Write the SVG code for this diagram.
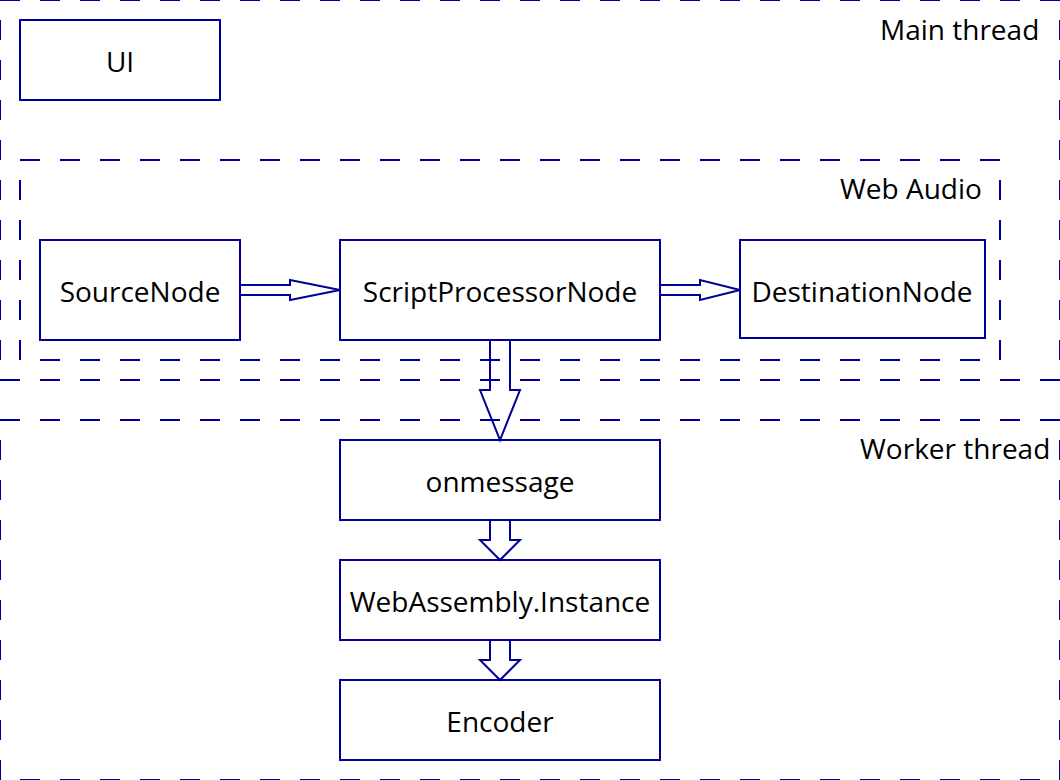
<svg xmlns="http://www.w3.org/2000/svg" width="1060" height="780" viewBox="0 0 1060 780">
<style>
.box{fill:#fff;stroke:#000099;stroke-width:2}
.dash{stroke:#000099;stroke-width:2;stroke-dasharray:20 20;fill:none}
.gap{stroke-dashoffset:20}
.arr{fill:none;stroke:#000099;stroke-width:2;stroke-linejoin:miter}
.t{font-family:"Open Sans","Noto Sans","DejaVu Sans",sans-serif;font-size:28px;fill:#000;text-anchor:middle}
.lbl{font-family:"Open Sans","Noto Sans","DejaVu Sans",sans-serif;font-size:28px;fill:#000}
</style>
<rect width="1060" height="780" fill="#fff"/>
<g id="main-thread">
<line class="dash" x1="0" y1="0" x2="1060" y2="0"/>
<line class="dash gap" x1="0" y1="0" x2="0" y2="380"/>
<line class="dash" x1="0" y1="380" x2="1060" y2="380"/>
<line class="dash gap" x1="1060" y1="0" x2="1060" y2="380"/>
<text class="lbl" x="880" y="40">Main thread</text>
</g>
<g id="web-audio">
<line class="dash" x1="20" y1="160" x2="1000" y2="160"/>
<line class="dash gap" x1="20" y1="160" x2="20" y2="360"/>
<line class="dash gap" x1="20" y1="360" x2="1000" y2="360"/>
<line class="dash gap" x1="1000" y1="160" x2="1000" y2="360"/>
<text class="lbl" x="840" y="199">Web Audio</text>
</g>
<g id="worker-thread">
<line class="dash" x1="0" y1="420" x2="1060" y2="420"/>
<line class="dash gap" x1="0" y1="420" x2="0" y2="780"/>
<line class="dash gap" x1="0" y1="780" x2="1060" y2="780"/>
<line class="dash gap" x1="1060" y1="420" x2="1060" y2="780"/>
<text class="lbl" x="860" y="459">Worker thread</text>
</g>
<g id="ui"><rect class="box" x="20" y="20" width="200" height="80"/><text class="t" x="120" y="72">UI</text></g>
<g id="source-node"><rect class="box" x="40" y="240" width="200" height="100"/><text class="t" x="140" y="302">SourceNode</text></g>
<g id="script-processor-node"><rect class="box" x="340" y="240" width="320" height="100"/><text class="t" x="500" y="302">ScriptProcessorNode</text></g>
<g id="destination-node"><rect class="box" x="740" y="240" width="245" height="98"/><text class="t" x="862" y="302">DestinationNode</text></g>
<g id="onmessage"><rect class="box" x="340" y="440" width="320" height="80"/><text class="t" x="500" y="492">onmessage</text></g>
<g id="webassembly-instance"><rect class="box" x="340" y="560" width="320" height="80"/><text class="t" x="500" y="612">WebAssembly.Instance</text></g>
<g id="encoder"><rect class="box" x="340" y="680" width="320" height="80"/><text class="t" x="500" y="732">Encoder</text></g>
<g id="connectors">
<polyline class="arr" points="240,285 290,285 290,280 340,290 290,300 290,295 240,295"/>
<polyline class="arr" points="660,285 700,285 700,280 740,290 700,300 700,295 660,295"/>
<polyline class="arr" points="490,340 490,390 480,390 500,440 520,390 510,390 510,340"/>
<polyline class="arr" points="490,520 490,540 480,540 500,560 520,540 510,540 510,520"/>
<polyline class="arr" points="490,640 490,660 480,660 500,680 520,660 510,660 510,640"/>
</g>
</svg>
